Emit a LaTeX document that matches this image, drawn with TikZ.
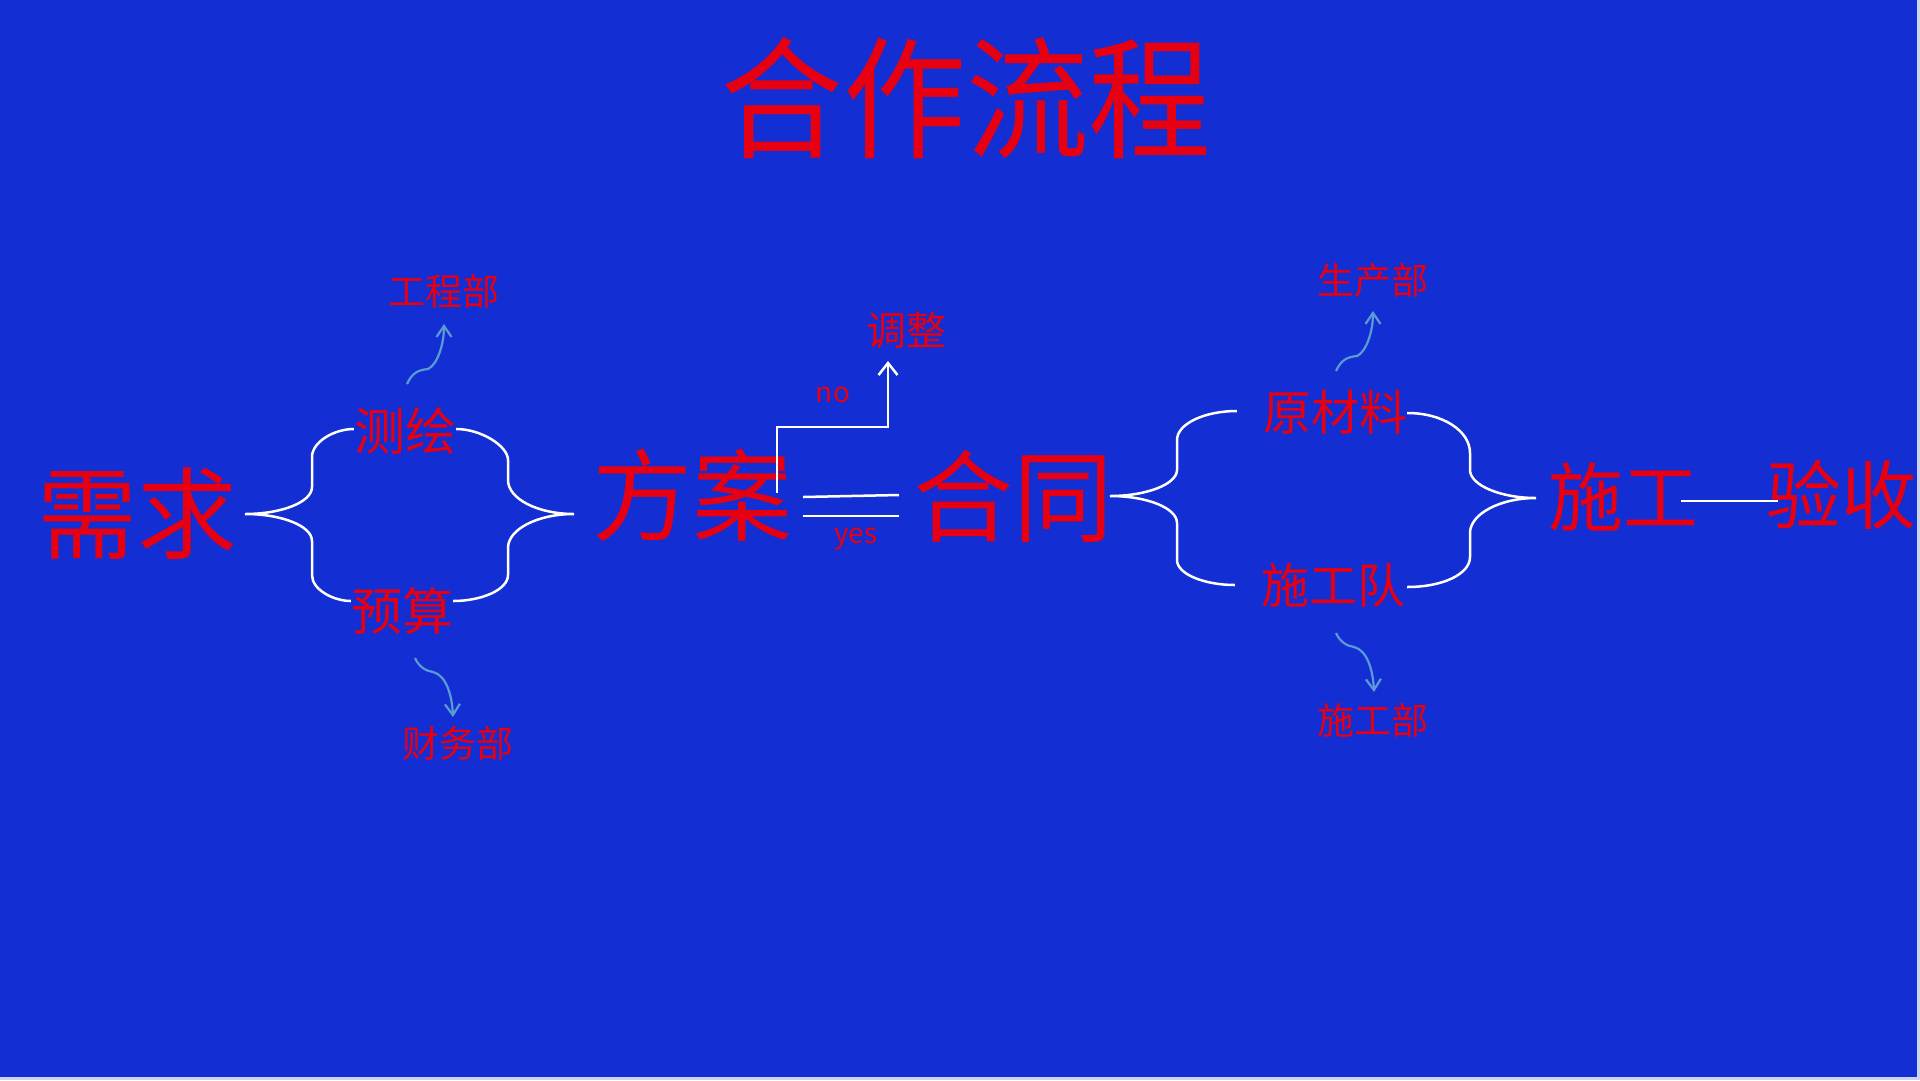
\documentclass[tikz,border=0pt]{standalone}
\usepackage{fontspec}
\newfontfamily\cjk{Noto Sans CJK SC}
\usetikzlibrary{arrows.meta}
\definecolor{bg}{RGB}{19,46,211}
\definecolor{rd}{RGB}{230,0,18}
\definecolor{ab}{RGB}{91,155,213}
\definecolor{rim}{RGB}{205,212,240}
\begin{document}
\begin{tikzpicture}[x=1pt,y=-1pt,
  txt/.style={text=rd,inner sep=0pt},
  ttl/.style={txt,font=\cjk\fontsize{132}{140}\selectfont,xscale=0.93},
  bigA/.style={txt,font=\cjk\fontsize{100}{110}\selectfont},
  bigB/.style={txt,font=\cjk\fontsize{75}{84}\selectfont},
  midA/.style={txt,font=\cjk\fontsize{51}{56}\selectfont},
  midB/.style={txt,font=\cjk\fontsize{48}{54}\selectfont},
  smallA/.style={txt,font=\cjk\fontsize{37}{42}\selectfont},
  lat/.style={txt,font=\cjk\fontsize{28}{32}\selectfont},
  wl/.style={draw=white,line width=2.5pt},
  wa/.style={wl,-{Straight Barb[length=12pt,width=19pt,line width=2.5pt]}},
  ba/.style={draw=ab,line width=2.2pt,-{Straight Barb[length=11pt,width=15pt,line width=2.2pt]}}
]
\useasboundingbox (0,0) rectangle (1920,1080);
\fill[rim] (0,0) rectangle (1920,1080);
\fill[bg] (0,0) rectangle (1917,1077);

% title
\node[ttl] (title) at (966,98) {合作流程};

% main nodes
\node[bigA] (xq) at (137,514) {需求};
\node[bigA] (fa) at (692,495) {方案};
\node[bigA] (ht) at (1013,496) {合同};
\node[bigB] (sg) at (1623,497) {施工};
\node[bigB] (ys) at (1841,495) {验收};

\node[midA] (ch) at (405,431) {测绘};
\node[midA] (yss) at (402,611) {预算};
\node[midB] (ycl) at (1335,412) {原材料};
\node[midB] (sgd) at (1333,585) {施工队};

\node[smallA] (gcb) at (444,291) {工程部};
\node[smallA] (cwb) at (458,743) {财务部};
\node[smallA] (scb) at (1373,280) {生产部};
\node[smallA] (sgb) at (1373,720) {施工部};
\node[txt,font=\cjk\fontsize{40}{46}\selectfont] (tz) at (906,330) {调整};

\node[lat] (no) at (833,395) {no};
\node[lat] (yes) at (856,539) {yes};

% coordinates
\coordinate (tipA) at (245,514);
\coordinate (tipB) at (574,514);
\coordinate (tipC) at (1110,496);
\coordinate (tipD) at (1536,498);
\coordinate (noS) at (777,493);
\coordinate (noT) at (888,361);
\coordinate (eqA1) at (803,497);
\coordinate (eqA2) at (899,495);
\coordinate (eqB1) at (803,516);
\coordinate (eqB2) at (899,516);
\coordinate (sgL) at (1681,501);
\coordinate (sgR) at (1778,501);
\coordinate (gcS) at (407,384);
\coordinate (gcT) at (444,324);
\coordinate (cwS) at (415,658);
\coordinate (cwT) at (453,717);
\coordinate (scS) at (1336,371);
\coordinate (scT) at (1373,311);
\coordinate (sgS) at (1336,633);
\coordinate (sgT) at (1374,692);

% brace 1
\draw[wl] ([yshift=2pt]ch.west) .. controls (334,429) and (312,442) .. (312,457) -- (312,487)
  .. controls (312,502) and (282,514) .. (tipA)
  .. controls (282,514) and (312,526) .. (312,541) -- (312,575)
  .. controls (312,590) and (334,601) .. ([yshift=10pt]yss.west);
\draw[wl] ([yshift=2pt]ch.east) .. controls (481,429) and (508,446) .. (508,460) -- (508,480)
  .. controls (508,499) and (538,514) .. (tipB)
  .. controls (538,514) and (508,529) .. (508,548) -- (508,575)
  .. controls (508,590) and (481,601) .. ([yshift=10pt]yss.east);

% brace 2
\draw[wl] ([xshift=-26pt,yshift=1pt]ycl.west) .. controls (1204,411) and (1177,424) .. (1177,440) -- (1177,470)
  .. controls (1177,484) and (1147,496) .. (tipC)
  .. controls (1147,496) and (1177,508) .. (1177,523) -- (1177,560)
  .. controls (1177,574) and (1204,585) .. ([xshift=-26pt]sgd.west);
\draw[wl] ([yshift=-1pt]ycl.east) .. controls (1443,413) and (1470,431) .. (1470,453) -- (1470,470)
  .. controls (1470,485) and (1500,498) .. (tipD)
  .. controls (1500,498) and (1470,514) .. (1470,533) -- (1470,557)
  .. controls (1470,574) and (1443,587) .. ([xshift=2pt,yshift=-2pt]sgd.east);

% no / yes
\draw[wa] (noS) -- (777,427) -- (888,427) -- (noT);
\draw[wl] (eqA1) -- (eqA2);
\draw[wl] (eqB1) -- (eqB2);
\draw[white,line width=2pt] (sgL) -- (sgR);

% blue arrows
\draw[ba] (gcS) .. controls (412,373) and (418,370) .. (428,369) .. controls (437,365) and (444,345) .. (gcT);
\draw[ba] (cwS) .. controls (419,667) and (426,671) .. (433,672) .. controls (446,675) and (452,695) .. (cwT);
\draw[ba] (scS) .. controls (1341,360) and (1347,357) .. (1357,356) .. controls (1366,352) and (1373,332) .. (scT);
\draw[ba] (sgS) .. controls (1340,642) and (1347,646) .. (1354,647) .. controls (1367,650) and (1373,670) .. (sgT);
\end{tikzpicture}
\end{document}
